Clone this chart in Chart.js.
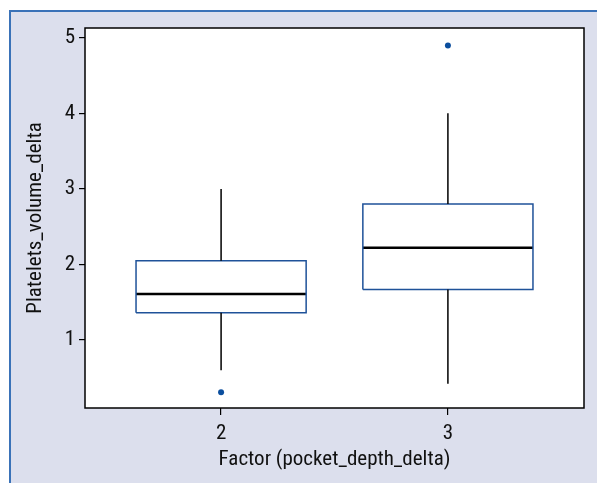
<!DOCTYPE html>
<html>
<head>
<meta charset="utf-8">
<script src="https://cdn.jsdelivr.net/npm/chart.js@4/dist/chart.umd.min.js"></script>
<style>
  html, body { margin: 0; padding: 0; background: #ffffff; }
  #frame {
    position: absolute; left: 9px; top: 10px; right: 0; bottom: 0;
    background: #dcdfed;
    border-top: 2px solid #3a72b8;
    border-left: 2px solid #3a72b8;
  }
  #wrap { position: absolute; left: 0; top: 0; width: 597px; height: 483px; }
</style>
</head>
<body>
<div id="frame"></div>
<div id="wrap"><canvas id="myChart" width="597" height="483"></canvas></div>
<script>
// data
const groups = [2, 3];
const whiskerLow = [0.6, 0.42];
const q1 = [1.36, 1.67];
const median = [1.61, 2.22];
const q3 = [2.05, 2.8];
const whiskerHigh = [3.0, 4.0];
const outliers = [[0.31], [4.9]];
const yTicks = [1, 2, 3, 4, 5];

const half = 0.375;
const FONT = "'Liberation Sans Narrow', 'Roboto Condensed', 'Liberation Sans', sans-serif";

const boxPts = [], medPts = [], whiskPts = [], outPts = [];
groups.forEach((g, i) => {
    boxPts.push({x: g - half, y: q1[i]}, {x: g + half, y: q1[i]}, {x: g + half, y: q3[i]},
                {x: g - half, y: q3[i]}, {x: g - half, y: q1[i]}, {x: g, y: null});
    medPts.push({x: g - half, y: median[i]}, {x: g + half, y: median[i]}, {x: g, y: null});
    whiskPts.push({x: g, y: whiskerLow[i]}, {x: g, y: q1[i]}, {x: g, y: null},
                  {x: g, y: q3[i]}, {x: g, y: whiskerHigh[i]}, {x: g, y: null});
    outliers[i].forEach(v => outPts.push({x: g, y: v}));
});

const frameBox = {
    id: 'frameBox',
    beforeDatasetsDraw(chart) {
        const {ctx, chartArea: a} = chart;
        ctx.save();
        ctx.fillStyle = '#ffffff';
        ctx.fillRect(a.left, a.top, a.right - a.left, a.bottom - a.top);
        ctx.restore();
    },
    afterDraw(chart) {
        const {ctx, chartArea: a} = chart;
        ctx.save();
        ctx.strokeStyle = '#000000';
        ctx.lineWidth = 1.5;
        ctx.strokeRect(a.left, a.top, a.right - a.left, a.bottom - a.top);
        ctx.restore();
    }
};

const lineDs = (data, color, width) => ({
    type: 'line', data: data, borderColor: color, borderWidth: width,
    pointRadius: 0, spanGaps: false, tension: 0, fill: false
});

new Chart(document.getElementById('myChart'), {
    type: 'scatter',
    data: {
        datasets: [
            lineDs(whiskPts, '#000000', 1.5),
            lineDs(boxPts, '#1f5299', 1.5),
            lineDs(medPts, '#000000', 2.5),
            {
                type: 'scatter', data: outPts,
                backgroundColor: '#0b4e9e', borderColor: '#0b4e9e',
                pointRadius: 3, borderWidth: 0
            }
        ]
    },
    options: {
        responsive: false,
        animation: false,
        layout: {padding: {left: 0, top: 28, right: 13, bottom: 0}},
        plugins: {legend: {display: false}, tooltip: {enabled: false}},
        scales: {
            x: {
                type: 'linear', min: 1.4, max: 3.6,
                afterBuildTicks: s => { s.ticks = groups.map(v => ({value: v})); },
                afterFit: s => { s.height = 75; },
                border: {display: false},
                grid: {drawOnChartArea: false, drawTicks: true, tickLength: 7, color: '#000000', lineWidth: 1.2},
                ticks: {color: '#111', font: {family: FONT, size: 21}, padding: 6},
                title: {display: true, text: 'Factor (pocket_depth_delta)', color: '#111',
                        font: {family: FONT, size: 21}, padding: {bottom: 11}}
            },
            y: {
                type: 'linear', min: 0.1, max: 5.13,
                afterBuildTicks: s => { s.ticks = yTicks.map(v => ({value: v})); },
                afterFit: s => { s.width = 85; },
                border: {display: false},
                grid: {drawOnChartArea: false, drawTicks: true, tickLength: 6, color: '#000000', lineWidth: 1.2},
                ticks: {color: '#111', font: {family: FONT, size: 21}, padding: 4},
                title: {display: true, text: 'Platelets_volume_delta', color: '#111',
                        font: {family: FONT, size: 21}, padding: {top: 23}}
            }
        }
    },
    plugins: [frameBox]
});
</script>
</body>
</html>
